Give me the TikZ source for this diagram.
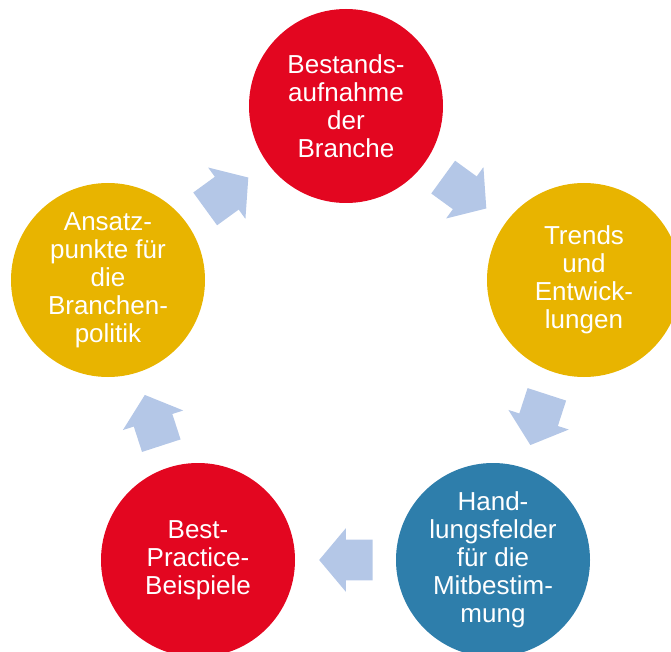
\documentclass[tikz,border=0pt]{standalone}
\usepackage{fontspec}
\setmainfont{Liberation Sans}
\usetikzlibrary{calc,shapes.arrows}

\definecolor{phasered}{HTML}{E30620}
\definecolor{phaseyellow}{HTML}{E8B400}
\definecolor{phaseblue}{HTML}{2E7EAB}
\definecolor{arrowblue}{HTML}{B4C7E7}

\tikzset{
	phase/.style={circle,inner sep=0,outer sep=0,minimum size=145.5pt,text=white,align=center,font=\fontsize{19.5}{21}\selectfont},
	flow/.style={single arrow,fill=arrowblue,inner xsep=0,inner ysep=15pt,outer sep=0,minimum height=40pt,single arrow head extend=8.6pt,single arrow tip angle=100}
}

\begin{document}
\begin{tikzpicture}[x=0.75pt,y=-0.75pt]
	\useasboundingbox (0,0) rectangle (671,652);
	\node[phase,fill=phasered] (bestand) at (346,106) {Bestands-\\aufnahme\\der\\Branche};
	\node[phase,fill=phaseyellow] (trends) at (584,280) {Trends\\und\\Entwick-\\lungen};
	\node[phase,fill=phaseblue] (handlung) at (493,560) {Hand-\\lungsfelder\\für die\\Mitbestim-\\mung};
	\node[phase,fill=phasered] (practice) at (198,560) {Best-\\Practice-\\Beispiele};
	\node[phase,fill=phaseyellow] (ansatz) at (108,280) {Ansatz-\\punkte für\\die\\Branchen-\\politik};
	\node[flow,rotate=-36] (f1) at ($(bestand)!0.47!(trends)$) {};
	\node[flow,rotate=-108] (f2) at ($(trends)!0.47!(handlung)$) {};
	\node[flow,rotate=180] (f3) at ($(handlung)!0.47!(practice)$) {};
	\node[flow,rotate=108] (f4) at ($(practice)!0.47!(ansatz)$) {};
	\node[flow,rotate=36] (f5) at ($(ansatz)!0.47!(bestand)$) {};
\end{tikzpicture}
\end{document}
